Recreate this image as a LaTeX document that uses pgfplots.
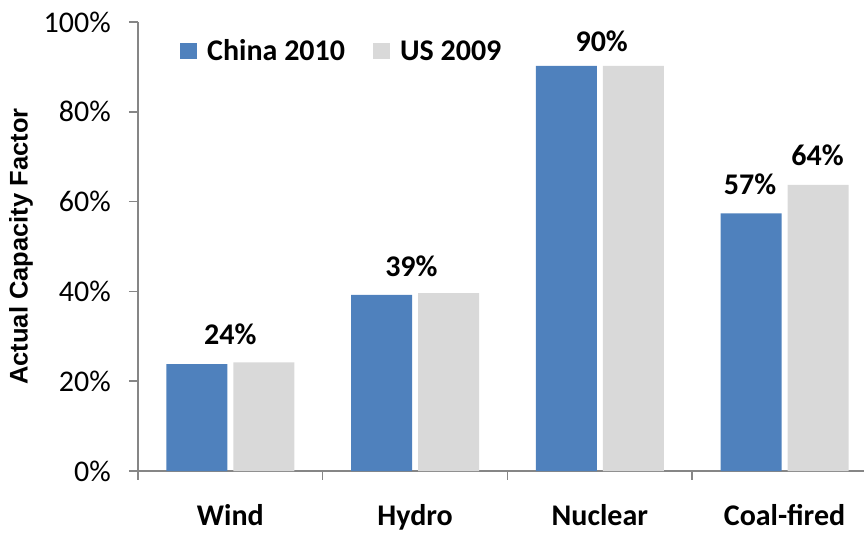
\documentclass[border=0pt]{standalone}
\usepackage{fontspec}
\setmainfont{Carlito}
\newfontfamily\titlefont{Liberation Sans}
\usepackage{pgfplots}
\pgfplotsset{compat=1.18}

\definecolor{chinablue}{HTML}{4F81BD}
\definecolor{usgrey}{HTML}{D9D9D9}
\definecolor{axisgrey}{HTML}{868686}

% Actual capacity factor (%) by generation type
\pgfplotstableread{
cat china us
0   23.8  24.2
1   39.2  39.6
2   90.2  90.2
3   57.4  63.7
}\capacity

\newcommand{\bigbold}{\fontsize{30bp}{35bp}\selectfont\bfseries}

\begin{document}
\begin{tikzpicture}
\path[use as bounding box] (-138bp,-63bp) rectangle (726bp,471bp);
\begin{axis}[
  at={(0,0)}, anchor=south west,
  scale only axis, width=726bp, height=449bp,
  ybar=6bp, bar width=61bp,
  xmin=-0.5, xmax=3.43, ymin=0, ymax=100,
  axis lines*=left,
  axis line style={axisgrey, line width=1.5bp},
  tick align=outside,
  xtick={0,1,2,3},
  xticklabels={Wind,Hydro,Nuclear,Coal-fired},
  minor xtick={-0.5,0.5,1.5,2.5},
  major x tick style={draw=none},
  minor x tick style={axisgrey, line width=1.5bp},
  ytick={0,20,40,60,80,100},
  yticklabels={0\%,20\%,40\%,60\%,80\%,100\%},
  y tick style={axisgrey, line width=1.5bp},
  major tick length=9bp, minor tick length=9bp,
  xticklabel style={font=\bigbold, anchor=base, yshift=-45bp},
  yticklabel style={font=\fontsize{30bp}{35bp}\selectfont, anchor=east, inner sep=0pt, xshift=-18bp},
  ylabel={Actual Capacity Factor},
  ylabel style={font=\titlefont\fontsize{25.5bp}{30bp}\selectfont\bfseries,
    at={(axis description cs:0,0.5)}, anchor=center, yshift=117bp},
  legend columns=2,
  legend style={at={(axis description cs:0,1)}, anchor=west, xshift=42bp, yshift=-29bp,
    draw=none, fill=none, inner sep=0pt,
    font=\bigbold,
    nodes={inner sep=0pt},
    /tikz/every odd column/.append style={column sep=10bp},
    /tikz/every even column/.append style={column sep=28bp}},
  legend image code/.code={\fill[#1] (0bp,-8bp) rectangle (17bp,8bp);},
  clip=false,
]
\addplot[fill=chinablue, draw=none] table[x=cat, y=china] {\capacity};
\addplot[fill=usgrey, draw=none] table[x=cat, y=us] {\capacity};
\legend{China 2010, US 2009}

\node[anchor=base, font=\bigbold] at (axis cs:0,28.1) {24\%};
\node[anchor=base, font=\bigbold] at (axis cs:0.98,43.4) {39\%};
\node[anchor=base, font=\bigbold] at (axis cs:2.01,93.4) {90\%};
\node[anchor=base, font=\bigbold] at (axis cs:2.813,61.5) {57\%};
\node[anchor=base, font=\bigbold] at (axis cs:3.179,68.0) {64\%};
\end{axis}
\end{tikzpicture}
\end{document}
